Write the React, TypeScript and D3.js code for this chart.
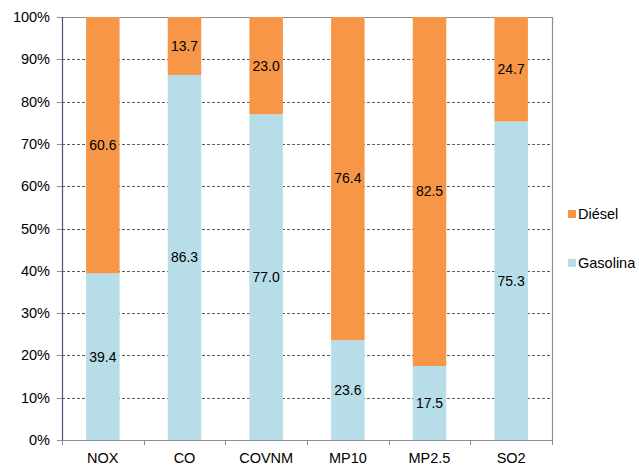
import React, { useEffect, useRef } from "react";
import * as d3 from "d3";

const categories = ["NOX", "CO", "COVNM", "MP10", "MP2.5", "SO2"];
const gasolina = [39.4, 86.3, 77.0, 23.6, 17.5, 75.3];
const diesel = [60.6, 13.7, 23.0, 76.4, 82.5, 24.7];
const yTicks = [0, 10, 20, 30, 40, 50, 60, 70, 80, 90, 100];
const seriesNames = ["Diésel", "Gasolina"];
const colors = { gasolina: "#B7DDE8", diesel: "#F79646" };

const App = () => {
  const ref = useRef<SVGSVGElement>(null);

  useEffect(() => {
    const svg = d3.select(ref.current);
    svg.selectAll("*").remove();

    const margin = { top: 17, left: 62, bottom: 25, right: 87 };
    const width = 639;
    const height = 465;
    const iwidth = width - margin.left - margin.right;
    const iheight = height - margin.top - margin.bottom;
    const font = "'Liberation Sans', Arial, sans-serif";
    const axisSize = 14.5;
    const labelSize = 14;

    const g = svg.append("g").attr("transform", `translate(${margin.left},${margin.top})`);

    const x = d3.scaleBand().domain(categories).range([0, iwidth]).paddingInner(0.59).paddingOuter(0.295);
    const xBound = d3.scaleBand().domain(categories).range([0, iwidth]);
    const y = d3.scaleLinear().domain([0, 100]).range([iheight, 0]);

    // gridlines
    g.selectAll(".grid")
      .data(yTicks.filter(t => t > 0 && t < 100))
      .enter()
      .append("line")
      .attr("x1", -5)
      .attr("x2", iwidth)
      .attr("y1", d => Math.round(y(d)) + 0.5)
      .attr("y2", d => Math.round(y(d)) + 0.5)
      .attr("stroke", "#333")
      .attr("stroke-width", 0.8)
      .attr("stroke-dasharray", "3,2");

    // top and right frame
    g.append("line").attr("x1", 0).attr("x2", iwidth).attr("y1", 0.5).attr("y2", 0.5)
      .attr("stroke", "#8c8c8c").attr("stroke-width", 1.2);
    g.append("line").attr("x1", iwidth + 0.5).attr("x2", iwidth + 0.5).attr("y1", 0).attr("y2", iheight)
      .attr("stroke", "#8c8c8c").attr("stroke-width", 1.2);

    // bars
    const rows = categories.map((c, i) => ({ c, gas: gasolina[i], die: diesel[i] }));
    g.selectAll(".gas")
      .data(rows)
      .enter()
      .append("rect")
      .attr("x", d => x(d.c)!)
      .attr("width", x.bandwidth())
      .attr("y", d => y(d.gas))
      .attr("height", d => iheight - y(d.gas))
      .attr("fill", colors.gasolina);
    g.selectAll(".die")
      .data(rows)
      .enter()
      .append("rect")
      .attr("x", d => x(d.c)!)
      .attr("width", x.bandwidth())
      .attr("y", d => y(d.gas + d.die))
      .attr("height", d => y(d.gas) - y(d.gas + d.die))
      .attr("fill", colors.diesel);

    // labels
    rows.forEach(d => {
      g.append("text")
        .attr("x", x(d.c)! + x.bandwidth() / 2)
        .attr("y", y(d.gas / 2))
        .attr("dy", "0.35em")
        .attr("text-anchor", "middle")
        .attr("font-family", font)
        .attr("font-size", labelSize)
        .attr("fill", "#000")
        .text(d.gas.toFixed(1));
      g.append("text")
        .attr("x", x(d.c)! + x.bandwidth() / 2)
        .attr("y", y(d.gas + d.die / 2))
        .attr("dy", "0.35em")
        .attr("text-anchor", "middle")
        .attr("font-family", font)
        .attr("font-size", labelSize)
        .attr("fill", "#000")
        .text(d.die.toFixed(1));
    });

    // y axis
    g.append("line").attr("x1", 0.5).attr("x2", 0.5).attr("y1", 0).attr("y2", iheight)
      .attr("stroke", "#4a5470").attr("stroke-width", 1.2);
    g.selectAll(".ytick")
      .data(yTicks)
      .enter()
      .append("line")
      .attr("x1", -5)
      .attr("x2", 0)
      .attr("y1", d => Math.round(y(d)) + 0.5)
      .attr("y2", d => Math.round(y(d)) + 0.5)
      .attr("stroke", "#8c8c8c");
    g.selectAll(".ylab")
      .data(yTicks)
      .enter()
      .append("text")
      .attr("x", -12)
      .attr("y", d => y(d))
      .attr("dy", "0.35em")
      .attr("text-anchor", "end")
      .attr("font-family", font)
      .attr("font-size", axisSize)
      .attr("fill", "#000")
      .text(d => `${d}%`);

    // x axis
    g.append("line").attr("x1", 0).attr("x2", iwidth + 1).attr("y1", iheight + 0.5).attr("y2", iheight + 0.5)
      .attr("stroke", "#8c8c8c").attr("stroke-width", 1.2);
    const bounds = categories.map(c => xBound(c)!).concat([iwidth]);
    g.selectAll(".xtick")
      .data(bounds)
      .enter()
      .append("line")
      .attr("x1", d => Math.round(d) + 0.5)
      .attr("x2", d => Math.round(d) + 0.5)
      .attr("y1", iheight)
      .attr("y2", iheight + 5)
      .attr("stroke", "#8c8c8c");
    g.selectAll(".xlab")
      .data(categories)
      .enter()
      .append("text")
      .attr("x", d => xBound(d)! + xBound.bandwidth() / 2)
      .attr("y", iheight + 18)
      .attr("dy", "0.35em")
      .attr("text-anchor", "middle")
      .attr("font-family", font)
      .attr("font-size", axisSize)
      .attr("fill", "#000")
      .text(d => d);

    // legend
    const legend = svg.append("g").attr("transform", "translate(568,0)");
    const legendColors = [colors.diesel, colors.gasolina];
    const legendY = [214, 263];
    seriesNames.forEach((name, i) => {
      legend.append("rect").attr("x", 0).attr("y", legendY[i] - 4).attr("width", 8).attr("height", 8)
        .attr("fill", legendColors[i]);
      legend.append("text").attr("x", 10).attr("y", legendY[i]).attr("dy", "0.35em")
        .attr("font-family", font).attr("font-size", axisSize).attr("fill", "#000").text(name);
    });
  }, []);

  return (
    <svg ref={ref} width={639} height={465} style={{ position: "absolute", left: 0, top: 0 }} />
  );
};

export default App;
